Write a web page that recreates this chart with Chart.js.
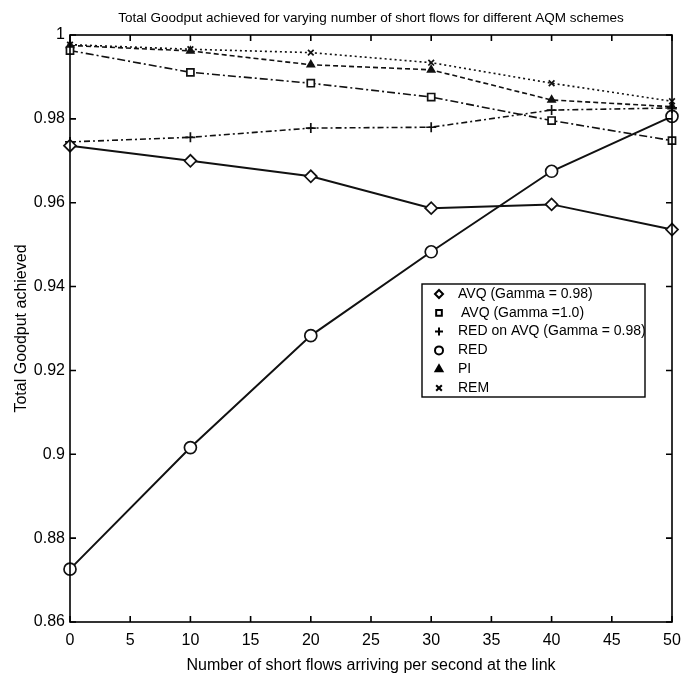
<!DOCTYPE html>
<html>
<head>
<meta charset="utf-8">
<script src="https://cdn.jsdelivr.net/npm/chart.js@4/dist/chart.umd.min.js"></script>
<style>
  html, body { margin: 0; padding: 0; background: #fff; }
  #wrap { width: 681px; height: 677px; }
</style>
</head>
<body>
<div id="wrap"><canvas id="myChart" width="681" height="677"></canvas></div>
<script>
// flows per second (x axis)
const flows = [0, 10, 20, 30, 40, 50];

// total goodput
const avq098 = [0.9736, 0.9700, 0.9663, 0.9587, 0.9596, 0.9536];
const avq10 = [0.9963, 0.9911, 0.9885, 0.9852, 0.9796, 0.9748];
const redOnAvq = [0.9745, 0.9756, 0.9778, 0.9780, 0.9821, 0.9826];
const red = [0.8726, 0.9016, 0.9283, 0.9483, 0.9675, 0.9806];
const pi = [0.9975, 0.9962, 0.9929, 0.9917, 0.9845, 0.9829];
const rem = [0.9977, 0.9966, 0.9958, 0.9934, 0.9885, 0.9842];

const seriesLabels = [
    'AVQ (Gamma = 0.98)',
    'AVQ (Gamma =1.0)',
    'RED on AVQ (Gamma = 0.98)',
    'RED',
    'PI',
    'REM'
];

const xTicks = { min: 0, max: 50, step: 5 };
const yTicks = { min: 0.86, max: 1, step: 0.02 };

const FONT = "'Liberation Sans Narrow', 'Arial Narrow', 'Liberation Sans', Arial, sans-serif";
Chart.defaults.font.family = FONT;
Chart.defaults.color = '#000';

function points(values) {
    return values.map((v, i) => ({ x: flows[i], y: v }));
}

function makeSet(label, values, style) {
    return Object.assign({
        label: label,
        data: points(values),
        borderColor: '#111',
        borderWidth: 1.6,
        pointBorderColor: '#111',
        pointBackgroundColor: '#fff',
        pointBorderWidth: 1.7,
        tension: 0,
        fill: false,
        clip: false
    }, style);
}

const data = {
    datasets: [
        makeSet(seriesLabels[0], avq098, { pointStyle: 'rectRot', pointRadius: 6, borderWidth: 2 }),
        makeSet(seriesLabels[1], avq10, { pointStyle: 'rect', pointRadius: 5, borderDash: [8, 3, 2, 3] }),
        makeSet(seriesLabels[2], redOnAvq, { pointStyle: 'cross', pointRadius: 5, borderDash: [6, 3, 2, 3] }),
        makeSet(seriesLabels[3], red, { pointStyle: 'circle', pointRadius: 6, borderWidth: 2 }),
        makeSet(seriesLabels[4], pi, { pointStyle: 'triangle', pointRadius: 4, pointBackgroundColor: '#111', borderDash: [5, 3] }),
        makeSet(seriesLabels[5], rem, { pointStyle: 'crossRot', pointRadius: 4, borderDash: [2, 3] })
    ]
};

// box around the axes with the ticks pointing inwards, matlab style
const framePlugin = {
    id: 'frame',
    afterDatasetsDraw(chart) {
        const ctx = chart.ctx;
        const a = chart.chartArea;
        const xs = chart.scales.x;
        const ys = chart.scales.y;
        const len = 6;
        ctx.save();
        ctx.strokeStyle = '#000';
        ctx.lineWidth = 1.6;
        ctx.strokeRect(a.left, a.top, a.right - a.left, a.bottom - a.top);
        ctx.beginPath();
        xs.ticks.forEach(t => {
            const px = xs.getPixelForValue(t.value);
            ctx.moveTo(px, a.bottom); ctx.lineTo(px, a.bottom - len);
            ctx.moveTo(px, a.top); ctx.lineTo(px, a.top + len);
        });
        ys.ticks.forEach(t => {
            const py = ys.getPixelForValue(t.value);
            ctx.moveTo(a.left, py); ctx.lineTo(a.left + len, py);
            ctx.moveTo(a.right, py); ctx.lineTo(a.right - len, py);
        });
        ctx.stroke();
        ctx.restore();
    }
};

// legend box sitting inside the plot
const boxLegend = {
    id: 'boxLegend',
    afterDraw(chart) {
        const ctx = chart.ctx;
        const x0 = 422, y0 = 284, w = 223, h = 113;
        ctx.save();
        ctx.fillStyle = '#fff';
        ctx.fillRect(x0, y0, w, h);
        ctx.strokeStyle = '#000';
        ctx.lineWidth = 1.4;
        ctx.strokeRect(x0, y0, w, h);
        ctx.font = '14px ' + FONT;
        ctx.textBaseline = 'middle';
        chart.data.datasets.forEach((ds, i) => {
            const y = y0 + 10 + i * 18.8;
            ctx.strokeStyle = '#000';
            ctx.fillStyle = ds.pointBackgroundColor === '#fff' ? '#fff' : '#000';
            ctx.lineWidth = 2;
            Chart.helpers.drawPoint(ctx, {
                pointStyle: ds.pointStyle,
                radius: Math.min(ds.pointRadius, 4),
                borderWidth: 2
            }, 439, y);
            ctx.fillStyle = '#000';
            ctx.fillText(ds.label, i === 1 ? 461 : 458, y);
        });
        ctx.restore();
    }
};

const config = {
    type: 'line',
    data: data,
    options: {
        responsive: false,
        animation: false,
        layout: {
            padding: { left: 0, right: 9, top: 0, bottom: 0 }
        },
        scales: {
            x: {
                type: 'linear',
                min: xTicks.min,
                max: xTicks.max,
                ticks: { stepSize: xTicks.step, font: { size: 16 }, padding: 9, maxRotation: 0 },
                grid: { display: false, drawTicks: false },
                border: { display: false },
                title: {
                    display: true,
                    text: 'Number of short flows arriving per second at the link',
                    font: { size: 16 },
                    padding: { top: 0, bottom: 2 }
                },
                afterFit: s => {
                    s.height = 55;
                    s.paddingLeft = 0;
                    s.paddingRight = 0;
                }
            },
            y: {
                type: 'linear',
                min: yTicks.min,
                max: yTicks.max,
                ticks: {
                    stepSize: yTicks.step,
                    font: { size: 16 },
                    padding: 5,
                    callback: v => String(+v.toFixed(2))
                },
                grid: { display: false, drawTicks: false },
                border: { display: false },
                title: {
                    display: true,
                    text: 'Total Goodput achieved',
                    font: { size: 16 },
                    padding: { top: 12, bottom: 0 }
                },
                afterFit: s => { s.width = 70; }
            }
        },
        plugins: {
            legend: { display: false },
            tooltip: { enabled: false },
            title: {
                display: true,
                fullSize: false,
                text: 'Total Goodput achieved for varying number of short flows for different AQM schemes',
                font: { size: 13.5, weight: 'normal' },
                color: '#000',
                padding: { top: 10, bottom: 8.8 }
            }
        }
    },
    plugins: [framePlugin, boxLegend]
};

const myChart = new Chart(document.getElementById('myChart'), config);
</script>
</body>
</html>
